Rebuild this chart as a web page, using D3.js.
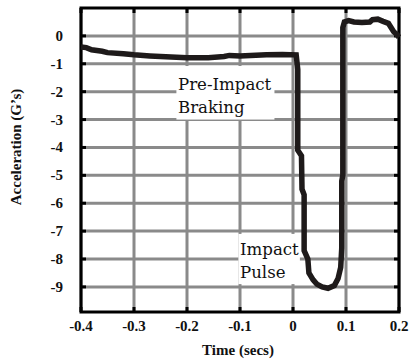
<!DOCTYPE html>
<html>
<head>
<meta charset="utf-8">
<script src="https://d3js.org/d3.v7.min.js"></script>
<style>
  body { margin: 0; background: #fff; }
  .tick-label { font-family: "Liberation Serif", "Times New Roman", serif; font-weight: bold; font-size: 15px; fill: #111; }
  .note { font-family: "DejaVu Serif", serif; font-size: 16.6px; fill: #111; }
</style>
</head>
<body>
<svg id="chart" width="411" height="360"></svg>
<script>
// trace
var times = [-0.4, -0.39, -0.38, -0.36, -0.35, -0.32, -0.3, -0.27, -0.24, -0.2, -0.16, -0.13, -0.12, -0.1, -0.08, -0.05, -0.02, 0.006,
  0.009, 0.009, 0.016, 0.017, 0.021, 0.021, 0.028, 0.03, 0.038, 0.045, 0.055, 0.066, 0.078, 0.085, 0.09, 0.092, 0.092, 0.094, 0.094,
  0.097, 0.105, 0.115, 0.13, 0.145, 0.15, 0.16, 0.17, 0.18, 0.185, 0.19, 0.196, 0.2];
var accel = [-0.4, -0.42, -0.5, -0.55, -0.6, -0.64, -0.68, -0.72, -0.75, -0.78, -0.78, -0.74, -0.7, -0.72, -0.7, -0.68, -0.67, -0.68,
  -1.2, -4.1, -4.3, -5.5, -5.7, -7.7, -8.0, -8.5, -8.75, -8.9, -9.0, -9.05, -8.95, -8.7, -8.3, -7.6, -5.2, -5.0, 0.3,
  0.5, 0.55, 0.5, 0.48, 0.5, 0.58, 0.6, 0.52, 0.45, 0.3, 0.15, 0.05, -0.05];
var xTicks = [-0.4, -0.3, -0.2, -0.1, 0, 0.1, 0.2];
var xTickLabels = ["-0.4", "-0.3", "-0.2", "-0.1", "0", "0.1", "0.2"];
var yTicks = [0, -1, -2, -3, -4, -5, -6, -7, -8, -9];
var notes = [
  {lines: ["Pre-Impact", "Braking"], t: -0.217, v: -1.95, box: [-0.22, -0.035, -1.08, -3.0]},
  {lines: ["Impact", "Pulse"], t: -0.1, v: -7.85, box: [-0.103, 0.013, -7.1, -8.9]}
];

var svg = d3.select("#chart");
var pLeft = 81, pRight = 399, pTop = 8, pBottom = 312;

var x = d3.scaleLinear().domain([-0.4, 0.2]).range([pLeft, pRight]);
var y = d3.scaleLinear().domain([-9.9, 1]).range([pBottom, pTop]);

// grid
svg.append("g").selectAll("line").data(xTicks).enter().append("line")
  .attr("x1", d => x(d)).attr("x2", d => x(d))
  .attr("y1", pTop).attr("y2", pBottom)
  .attr("stroke", "#8a8a8a").attr("stroke-width", 3);
svg.append("g").selectAll("line").data(yTicks).enter().append("line")
  .attr("x1", pLeft).attr("x2", pRight)
  .attr("y1", d => y(d)).attr("y2", d => y(d))
  .attr("stroke", "#8a8a8a").attr("stroke-width", 3);

// white boxes behind the notes
notes.forEach(function(n) {
  svg.append("rect")
    .attr("x", x(n.box[0])).attr("y", y(n.box[2]))
    .attr("width", x(n.box[1]) - x(n.box[0]))
    .attr("height", y(n.box[3]) - y(n.box[2]))
    .attr("fill", "#fff");
});

// ticks inside the frame
var tk = 5;
svg.append("g").selectAll("line").data(yTicks).enter().append("line")
  .attr("x1", pLeft).attr("x2", pLeft + tk).attr("y1", d => y(d)).attr("y2", d => y(d))
  .attr("stroke", "#000").attr("stroke-width", 3);
svg.append("g").selectAll("line").data(yTicks).enter().append("line")
  .attr("x1", pRight - tk).attr("x2", pRight).attr("y1", d => y(d)).attr("y2", d => y(d))
  .attr("stroke", "#000").attr("stroke-width", 3);
svg.append("g").selectAll("line").data(xTicks).enter().append("line")
  .attr("x1", d => x(d)).attr("x2", d => x(d)).attr("y1", pBottom - tk).attr("y2", pBottom)
  .attr("stroke", "#000").attr("stroke-width", 3);
svg.append("g").selectAll("line").data(xTicks).enter().append("line")
  .attr("x1", d => x(d)).attr("x2", d => x(d)).attr("y1", pTop).attr("y2", pTop + tk)
  .attr("stroke", "#000").attr("stroke-width", 3);

// frame
svg.append("rect").attr("x", pLeft).attr("y", pTop)
  .attr("width", pRight - pLeft).attr("height", pBottom - pTop)
  .attr("fill", "none").attr("stroke", "#000").attr("stroke-width", 3);

// trace
var line = d3.line().x(d => x(d[0])).y(d => y(d[1]));
svg.append("path").datum(d3.zip(times, accel))
  .attr("d", line).attr("fill", "none")
  .attr("stroke", "#1e1a1a").attr("stroke-width", 5.5)
  .attr("stroke-linejoin", "miter");

// notes
notes.forEach(function(n) {
  var t = svg.append("text").attr("class", "note")
    .attr("x", x(n.t)).attr("y", y(n.v));
  n.lines.forEach(function(s, i) {
    t.append("tspan").attr("x", x(n.t)).attr("dy", i ? 23 : 0).text(s);
  });
});

// tick labels
svg.append("g").selectAll("text").data(yTicks).enter().append("text")
  .attr("class", "tick-label").attr("text-anchor", "end")
  .attr("x", 63).attr("y", d => y(d) + 5).text(d => d);
svg.append("g").selectAll("text").data(xTicks).enter().append("text")
  .attr("class", "tick-label").attr("text-anchor", "middle")
  .attr("x", d => x(d)).attr("y", 331).text((d, i) => xTickLabels[i]);

// axis titles
svg.append("text").attr("class", "tick-label").attr("text-anchor", "middle")
  .attr("x", 238).attr("y", 355).text("Time (secs)");
svg.append("text").attr("class", "tick-label").attr("text-anchor", "middle")
  .attr("transform", "translate(21,147) rotate(-90)").text("Acceleration (G\u2019s)");
</script>
</body>
</html>
